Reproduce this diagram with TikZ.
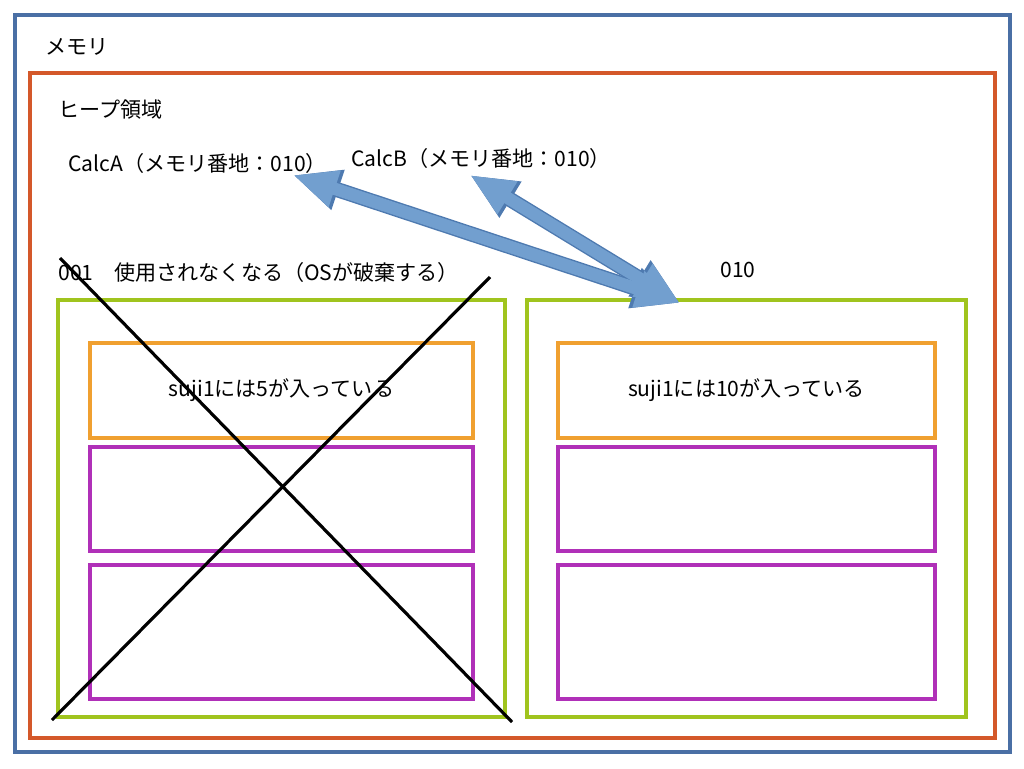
\documentclass[tikz,border=0pt]{standalone}
\usepackage{fontspec}
\setmainfont{Noto Sans CJK JP}
\usetikzlibrary{arrows.meta, positioning}
\definecolor{memblue}{HTML}{4A6FA5}
\definecolor{heapred}{HTML}{D4582A}
\definecolor{objgreen}{HTML}{A0C41E}
\definecolor{fieldorange}{HTML}{F0A030}
\definecolor{fieldpurple}{HTML}{B030B8}
\definecolor{refblue}{HTML}{729FCF}
\definecolor{refedge}{HTML}{4E7AB0}

\begin{document}
\begin{tikzpicture}[
      x=0.02cm, y=-0.02cm,
      every node/.style={font=\fontsize{12}{14}\selectfont},
      mem/.style={draw=memblue, line width=2pt},
      heap/.style={draw=heapred, line width=2pt},
      obj/.style={draw=objgreen, line width=2pt},
      field/.style={draw=fieldorange, line width=2pt},
      slot/.style={draw=fieldpurple, line width=2pt},
      lbl/.style={anchor=west, inner sep=0pt},
      cross/.style={black, line width=1.8pt},
      ref/.style={draw=refedge, line width=8.6pt,
                  {Triangle[width=22pt, length=27pt]}-{Triangle[width=22pt, length=27pt]}},
      refin/.style={draw=refblue, line width=7pt,
                  {Triangle[width=20pt, length=25pt]}-{Triangle[width=20pt, length=25pt]}}
    ]
    \useasboundingbox (0,0) rectangle (1024,768);

    % Bereiche
    \draw[mem]  (15,15) rectangle (1010,752);
    \draw[heap] (30,73) rectangle (995,738);
    \node[lbl] (memory) at (45,47)  {メモリ};
    \node[lbl] (heaplbl) at (58,110) {ヒープ領域};

    % Variablen
    \node[lbl] (calca) at (68,163)  {CalcA（メモリ番地：010）};
    \node[lbl] (calcb) at (351,158) {CalcB（メモリ番地：010）};

    % Objekt 001
    \node[lbl] (old) at (58,272) {001\quad 使用されなくなる（OSが破棄する）};
    \draw[obj]   (58,300) rectangle (505,717);
    \draw[field] (90,343) rectangle (473,438) node[midway] (oldval) {suji1には5が入っている};
    \draw[slot]  (90,447) rectangle (473,551);
    \draw[slot]  (90,565) rectangle (473,699);

    % Objekt 010
    \node (new) at (738,270) {010};
    \draw[obj]   (527,300) rectangle (966,717);
    \draw[field] (558,343) rectangle (935,438) node[midway] (newval) {suji1には10が入っている};
    \draw[slot]  (558,447) rectangle (935,551);
    \draw[slot]  (558,565) rectangle (935,699);

    % Durchgestrichen
    \coordinate (xa) at (60,258);
    \coordinate (xb) at (512,722);
    \coordinate (xc) at (490,277);
    \coordinate (xd) at (52,720);
    \draw[cross] (xa) -- (xb);
    \draw[cross] (xc) -- (xd);

    % Referenzen
    \coordinate (refa) at (293,175);
    \coordinate (refb) at (470,175);
    \coordinate (target) at (680,303);
    \draw[ref]   (refa) -- (target);
    \draw[ref]   (refb) -- (target);
    \draw[refin] (refa) -- (target);
    \draw[refin] (refb) -- (target);
  \end{tikzpicture}
\end{document}
